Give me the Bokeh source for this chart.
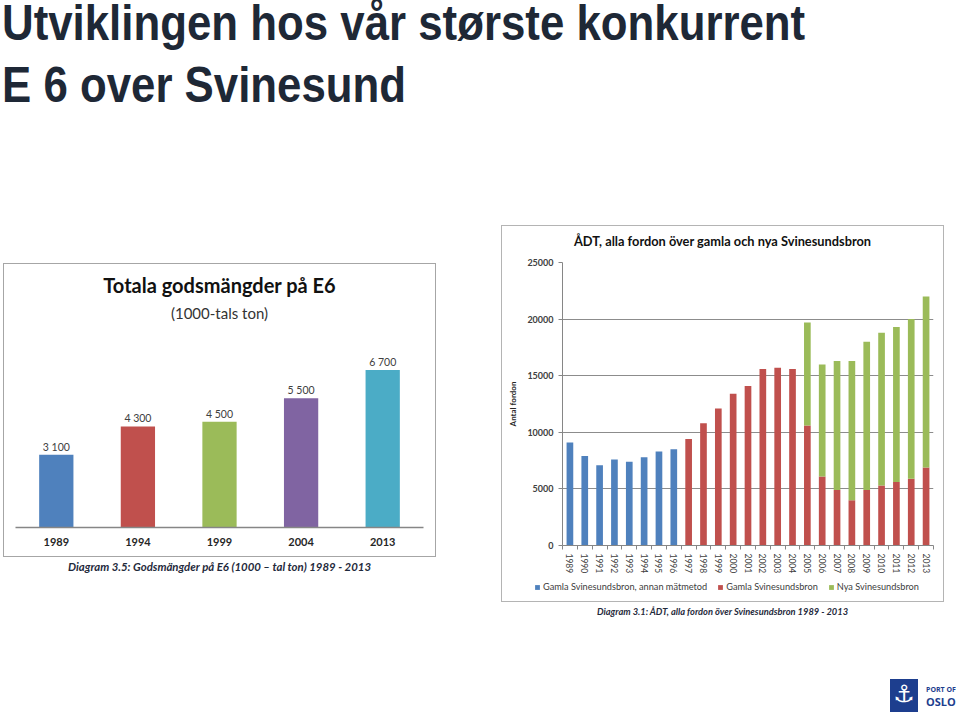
from bokeh.plotting import figure
from bokeh.models import (ColumnDataSource, Div, Spacer, Legend, LegendItem,
                          FixedTicker, Range1d)
from bokeh.layouts import column, row
from bokeh.embed import file_html
from bokeh.resources import INLINE
from bokeh.core.properties import value

# ---------------- data ----------------
gods_years = ["1989", "1994", "1999", "2004", "2013"]
gods_values = [3100, 4300, 4500, 5500, 6700]
gods_labels = ["3 100", "4 300", "4 500", "5 500", "6 700"]
gods_colors = ["#4F81BD", "#C0504D", "#9BBB59", "#8064A2", "#4BACC6"]

adt_years = list(range(1989, 2014))
adt_old_method = [9100, 7900, 7100, 7600, 7400, 7800, 8300, 8500,
                  0, 0, 0, 0, 0, 0, 0, 0, 0, 0, 0, 0, 0, 0, 0, 0, 0]
adt_old = [0, 0, 0, 0, 0, 0, 0, 0,
           9400, 10800, 12100, 13400, 14100, 15600, 15700, 15600,
           10600, 6100, 4900, 4000, 4900, 5300, 5600, 5900, 6900]
adt_new = [0, 0, 0, 0, 0, 0, 0, 0, 0, 0, 0, 0, 0, 0, 0, 0,
           9100, 9900, 11400, 12300, 13100, 13500, 13700, 14100, 15100]
adt_series = ["Gamla Svinesundsbron, annan mätmetod", "Gamla Svinesundsbron", "Nya Svinesundsbron"]
adt_colors = ["#4F81BD", "#C0504D", "#9BBB59"]
adt_ticks = [0, 5000, 10000, 15000, 20000, 25000]

FONT = "Lato"
TXT = "#262626"

# ---------------- slide title ----------------
title_html = ('<div style="margin:-8px 0 0 2px; font-family:\'Liberation Sans\'; font-weight:bold; '
              'font-size:50px; line-height:62px; color:#1e2836; transform:scaleX(0.876); '
              'transform-origin:0 0; white-space:nowrap">Utviklingen hos vår største konkurrent<br>'
              'E 6 over Svinesund</div>')
title_div = Div(text=title_html, width=940, height=225, margin=(0, 0, 0, 0))

# ---------------- left chart ----------------
ltitle = Div(text=('<div style="width:431px;text-align:center;font-family:Lato;white-space:nowrap;padding-top:9px">'
                   '<div style="font-weight:bold;font-size:20px;line-height:24px;color:#111111">'
                   'Totala godsmängder på E6</div>'
                   '<div style="margin-top:7px;font-size:15px;line-height:18px;color:#333333">'
                   '(1000-tals ton)</div></div>'),
             width=431, height=70, margin=(0, 0, 0, 0))

lsrc = ColumnDataSource(dict(year=gods_years, value=gods_values, label=gods_labels, color=gods_colors))
lp = figure(x_range=gods_years, y_range=Range1d(0, 8000), width=431, height=222,
            output_backend="svg", toolbar_location=None, y_axis_location=None,
            min_border_left=11, min_border_right=12, min_border_top=5, min_border_bottom=29,
            outline_line_color=None, background_fill_color="white", border_fill_color="white",
            margin=(0, 0, 0, 0))
lp.vbar(x="year", top="value", width=0.42, fill_color="color", line_color=None, source=lsrc)
lp.text(x="year", y="value", text="label", source=lsrc, text_align="center",
        text_baseline="alphabetic", y_offset=-8, text_font_size="10.5px",
        text_color="#404040", text_font=value(FONT))
lp.xgrid.grid_line_color = None
lp.ygrid.grid_line_color = None
lp.xaxis.axis_line_color = "#868686"
lp.xaxis.axis_line_width = 1.5
lp.xaxis.major_tick_line_color = None
lp.xaxis.major_tick_out = 0
lp.xaxis.major_label_standoff = 10
lp.xaxis.major_label_text_font_size = "11px"
lp.xaxis.major_label_text_font_style = "bold"
lp.xaxis.major_label_text_color = TXT
lp.xaxis.major_label_text_font = FONT

left_box = column(ltitle, lp, margin=(0, 0, 0, 0), styles={"border": "1px solid #a6a6a6"})

lcap = Div(text=('<div style="width:433px;text-align:center;line-height:20px;white-space:nowrap;'
                 'font-family:Lato;font-style:italic;font-weight:bold;font-size:11.4px;color:#1f2a3c">'
                 'Diagram 3.5: Godsmängder på E6 (1000 – tal ton) 1989 - 2013</div>'),
           width=433, height=20, margin=(0, 0, 0, 0))

# ---------------- right chart ----------------
rtitle = Div(text=('<div style="width:441px;text-align:center;font-family:Lato;white-space:nowrap;'
                   'padding-top:7px;font-weight:bold;font-size:12.8px;line-height:16px;color:#111111">'
                   'ÅDT, alla fordon över gamla och nya Svinesundsbron</div>'),
             width=441, height=30, margin=(0, 0, 0, 0))

rsrc = ColumnDataSource(dict(year=adt_years, a=adt_old_method, b=adt_old, c=adt_new))
rp = figure(x_range=Range1d(1988.5, 2013.5), y_range=Range1d(0, 25000), width=441, height=320,
            output_backend="svg", toolbar_location=None, frame_align=False,
            min_border_left=60, min_border_right=10, min_border_top=6, min_border_bottom=30,
            outline_line_color=None, background_fill_color="white", border_fill_color="white",
            margin=(0, 0, 0, 0))
rp.vbar_stack(["a", "b", "c"], x="year", width=0.45, fill_color=adt_colors,
              line_color=None, source=rsrc)
rp.xgrid.grid_line_color = None
rp.ygrid.grid_line_color = "#8c8c8c"
rp.yaxis.ticker = FixedTicker(ticks=adt_ticks)
rp.yaxis.axis_line_color = "#868686"
rp.yaxis.major_tick_line_color = "#868686"
rp.yaxis.major_tick_out = 4
rp.yaxis.major_tick_in = 0
rp.yaxis.minor_tick_line_color = None
rp.yaxis.major_label_standoff = 5
rp.yaxis.major_label_text_font = FONT
rp.yaxis.major_label_text_font_size = "9px"
rp.yaxis.major_label_text_font_style = "bold"
rp.yaxis.major_label_text_color = "#404040"
rp.yaxis.axis_label = "Antal fordon"
rp.yaxis.axis_label_text_font = FONT
rp.yaxis.axis_label_text_font_size = "8px"
rp.yaxis.axis_label_text_font_style = "bold"
rp.yaxis.axis_label_text_color = TXT
rp.yaxis.axis_label_standoff = 6
rp.xaxis.ticker = FixedTicker(ticks=adt_years,
                              minor_ticks=[y - 0.5 for y in adt_years] + [adt_years[-1] + 0.5])
rp.xaxis.major_label_overrides = {y: str(y) for y in adt_years}
rp.xaxis.axis_line_color = "#868686"
rp.xaxis.major_tick_line_color = None
rp.xaxis.major_tick_out = 0
rp.xaxis.minor_tick_line_color = "#868686"
rp.xaxis.minor_tick_out = 4
rp.xaxis.minor_tick_in = 0
rp.xaxis.major_label_orientation = "vertical"
rp.xaxis.major_label_standoff = 4
rp.xaxis.major_label_text_font = FONT
rp.xaxis.major_label_text_font_size = "8.5px"
rp.xaxis.major_label_text_color = "#404040"

# legend strip: companion plot of the same series whose ranges hold no bars, showing only the legend
lf = figure(x_range=Range1d(0, 1), y_range=Range1d(-2, -1), width=441, height=25,
            output_backend="svg", toolbar_location=None, x_axis_location=None, y_axis_location=None,
            min_border=0, frame_align=False, outline_line_color=None, background_fill_color="white",
            border_fill_color="white", margin=(0, 0, 0, 0))
lf.xgrid.grid_line_color = None
lf.ygrid.grid_line_color = None
lrends = lf.vbar_stack(["a", "b", "c"], x="year", width=0.45, fill_color=adt_colors,
                       line_color=None, source=rsrc)
legend = Legend(items=[LegendItem(label=adt_series[i], renderers=[lrends[i]]) for i in range(3)],
                location=(32, 9), orientation="horizontal", border_line_color=None,
                background_fill_alpha=0, padding=0, margin=0, spacing=10,
                glyph_width=6, glyph_height=6, label_standoff=3, label_height=9,
                label_text_font=FONT, label_text_font_size="9.2px", label_text_color="#404040")
lf.add_layout(legend)

right_box = column(rtitle, rp, lf, margin=(0, 0, 0, 0), styles={"border": "1px solid #b4b4b4"})

rcap = Div(text=('<div style="width:443px;text-align:center;line-height:20px;white-space:nowrap;'
                 'font-family:Lato;font-style:italic;font-weight:bold;font-size:9.3px;color:#1f2a3c">'
                 'Diagram 3.1: ÅDT, alla fordon över Svinesundsbron 1989 - 2013</div>'),
           width=443, height=20, margin=(0, 0, 0, 0))

# ---------------- logo ----------------
logo_html = ('<div style="display:flex;align-items:center;width:70px;height:33px">'
             '<div style="margin-left:2px;width:28px;height:33px;background:#1d3e8e;color:#fff;'
             'font-family:\'DejaVu Sans\';font-size:24px;line-height:31px;text-align:center">⚓</div>'
             '<div style="margin-left:8px;color:#1d3e8e;font-family:\'Open Sans\';font-weight:bold;'
             'white-space:nowrap;margin-top:3px">'
             '<div style="font-size:7px;line-height:10px">PORT OF</div>'
             '<div style="font-size:11px;line-height:14px">OSLO</div></div></div>')
logo = Div(text=logo_html, width=70, height=33, margin=(0, 0, 0, 0))

left_col = column(Spacer(height=38, width=433), left_box, lcap, margin=(0, 0, 0, 3))
right_col = column(right_box, rcap, margin=(0, 0, 0, 0))
charts = row(left_col, Spacer(width=65, height=10), right_col, margin=(0, 0, 0, 0))
logo_row = row(Spacer(width=888, height=10), logo, margin=(57, 0, 0, 0))
page = column(title_div, charts, logo_row, margin=(0, 0, 0, 0))

open("out.html", "w").write(file_html(page, INLINE))
